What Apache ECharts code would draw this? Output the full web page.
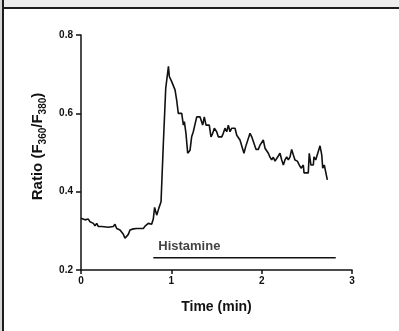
<!DOCTYPE html>
<html>
<head>
<meta charset="utf-8">
<script src="https://cdn.jsdelivr.net/npm/echarts@6/dist/echarts.min.js"></script>
<style>
	html,body{margin:0;padding:0;background:#fff;}
	#chart{width:399px;height:331px;}
</style>
</head>
<body>
<div id="chart"></div>
<script>
	// time (min) and fluorescence ratio
	var timeMin = [
		0, 0.044, 0.081, 0.10, 0.137, 0.155, 0.174, 0.192, 0.229, 0.303, 0.358, 0.376,
		0.395, 0.432, 0.45, 0.469, 0.487, 0.506, 0.524, 0.542, 0.561, 0.579, 0.616, 0.653,
		0.672, 0.690, 0.709, 0.727, 0.745, 0.764, 0.782, 0.80, 0.815, 0.838, 0.862, 0.886,
		0.911, 0.938, 0.968, 0.978, 0.985, 1.004, 1.022, 1.041, 1.059, 1.077, 1.115, 1.133,
		1.144, 1.162, 1.181, 1.207, 1.225, 1.243, 1.281, 1.317, 1.347, 1.365, 1.384, 1.420,
		1.439, 1.458, 1.476, 1.502, 1.520, 1.558, 1.575, 1.594, 1.613, 1.631, 1.650, 1.668,
		1.705, 1.724, 1.741, 1.760, 1.779, 1.804, 1.823, 1.841, 1.871, 1.890, 1.907, 1.937,
		1.963, 1.982, 2.000, 2.018, 2.037, 2.056, 2.074, 2.092, 2.111, 2.129, 2.148, 2.184,
		2.203, 2.222, 2.240, 2.258, 2.277, 2.295, 2.314, 2.332, 2.350, 2.369, 2.395, 2.417,
		2.436, 2.461, 2.469, 2.516, 2.527, 2.546, 2.572, 2.579, 2.598, 2.616, 2.646, 2.665,
		2.676, 2.693, 2.712, 2.727
	];
	var ratio = [
		0.332, 0.328, 0.330, 0.323, 0.319, 0.313, 0.319, 0.311, 0.311, 0.309, 0.311, 0.317,
		0.306, 0.302, 0.302, 0.291, 0.281, 0.281, 0.291, 0.302, 0.300, 0.305, 0.306, 0.306,
		0.311, 0.306, 0.312, 0.307, 0.319, 0.317, 0.317, 0.330, 0.360, 0.340, 0.358, 0.374,
		0.520, 0.664, 0.720, 0.694, 0.689, 0.681, 0.678, 0.660, 0.634, 0.600, 0.600, 0.570,
		0.579, 0.549, 0.498, 0.506, 0.540, 0.553, 0.591, 0.591, 0.570, 0.591, 0.570, 0.570,
		0.540, 0.549, 0.562, 0.553, 0.540, 0.540, 0.549, 0.562, 0.553, 0.570, 0.553, 0.562,
		0.562, 0.544, 0.540, 0.532, 0.528, 0.498, 0.515, 0.519, 0.549, 0.540, 0.540, 0.508,
		0.508, 0.519, 0.519, 0.532, 0.511, 0.508, 0.498, 0.488, 0.481, 0.488, 0.478, 0.491,
		0.498, 0.481, 0.468, 0.481, 0.489, 0.481, 0.489, 0.508, 0.494, 0.481, 0.478, 0.468,
		0.460, 0.468, 0.448, 0.448, 0.498, 0.468, 0.468, 0.489, 0.481, 0.485, 0.517, 0.494,
		0.460, 0.468, 0.471, 0.430
	];
	var xTicks = [0, 1, 2, 3];
	var yTicks = [0.2, 0.4, 0.6, 0.8];
	var histamineSpan = [0.80, 2.82];
	var histamineLevel = 0.231;
	var histamineLabel = "Histamine";

	var trace = [];
	for (var i = 0; i < timeMin.length; i++) {
		trace.push([timeMin[i], ratio[i]]);
	}

	var ink = "#111";
	var font = "'Liberation Sans', Arial, sans-serif";

	var chart = echarts.init(document.getElementById("chart"), null, {renderer: "canvas"});
	chart.setOption({
		animation: false,
		backgroundColor: "#fff",
		grid: {left: 81, top: 35, right: 47, bottom: 61},
		graphic: [
			{type: "rect", shape: {x: 0, y: 0, width: 399, height: 7}, style: {fill: "#ececec"}, silent: true},
			{type: "rect", shape: {x: 0, y: 0, width: 2, height: 331}, style: {fill: "#d6d6d6"}, silent: true},
			{type: "rect", shape: {x: 2, y: 0, width: 2, height: 331}, style: {fill: "#1c1c1c"}, silent: true},
			{type: "rect", shape: {x: 2, y: 7, width: 397, height: 2}, style: {fill: "#1c1c1c"}, silent: true}
		],
		xAxis: {
			type: "value",
			min: xTicks[0],
			max: xTicks[xTicks.length - 1],
			interval: 1,
			name: "Time (min)",
			nameLocation: "middle",
			nameGap: 30,
			nameTextStyle: {color: ink, fontFamily: font, fontWeight: "bold", fontSize: 14},
			splitLine: {show: false},
			axisLine: {onZero: false, lineStyle: {color: ink, width: 1.5}},
			axisTick: {length: 4, lineStyle: {color: ink, width: 1.5}},
			axisLabel: {color: ink, fontFamily: font, fontWeight: "bold", fontSize: 10, margin: 6}
		},
		yAxis: {
			type: "value",
			min: yTicks[0],
			max: yTicks[yTicks.length - 1],
			interval: 0.2,
			name: "{a|Ratio (F}{s|360}{a|/F}{s|380}{a|)}",
			nameLocation: "middle",
			nameGap: 32,
			nameTextStyle: {
				color: ink, fontFamily: font, fontWeight: "bold",
				padding: [0, 0, 0, 12],
				rich: {
					a: {color: ink, fontFamily: font, fontWeight: "bold", fontSize: 15, lineHeight: 20},
					s: {color: ink, fontFamily: font, fontWeight: "bold", fontSize: 10, lineHeight: 10, verticalAlign: "bottom"}
				}
			},
			splitLine: {show: false},
			axisLine: {show: true, onZero: false, lineStyle: {color: ink, width: 1.5}},
			axisTick: {show: true, length: 5, lineStyle: {color: ink, width: 1.5}},
			axisLabel: {
				color: ink, fontFamily: font, fontWeight: "bold", fontSize: 10, margin: 8,
				formatter: function (v) { return v.toFixed(1); }
			}
		},
		series: [
			{
				type: "line",
				data: trace,
				symbol: "none",
				lineStyle: {color: ink, width: 1.6},
				silent: true
			},
			{
				type: "line",
				data: [[histamineSpan[0], histamineLevel], [histamineSpan[1], histamineLevel]],
				symbol: "none",
				lineStyle: {color: ink, width: 1.5},
				silent: true
			},
			{
				type: "scatter",
				data: [[histamineSpan[0], histamineLevel]],
				symbolSize: 0,
				silent: true,
				label: {
					show: true,
					position: "insideLeft",
					offset: [0, -11],
					formatter: histamineLabel,
					color: ink, fontFamily: font, fontWeight: "bold", fontSize: 13
				}
			}
		]
	});
</script>
</body>
</html>
